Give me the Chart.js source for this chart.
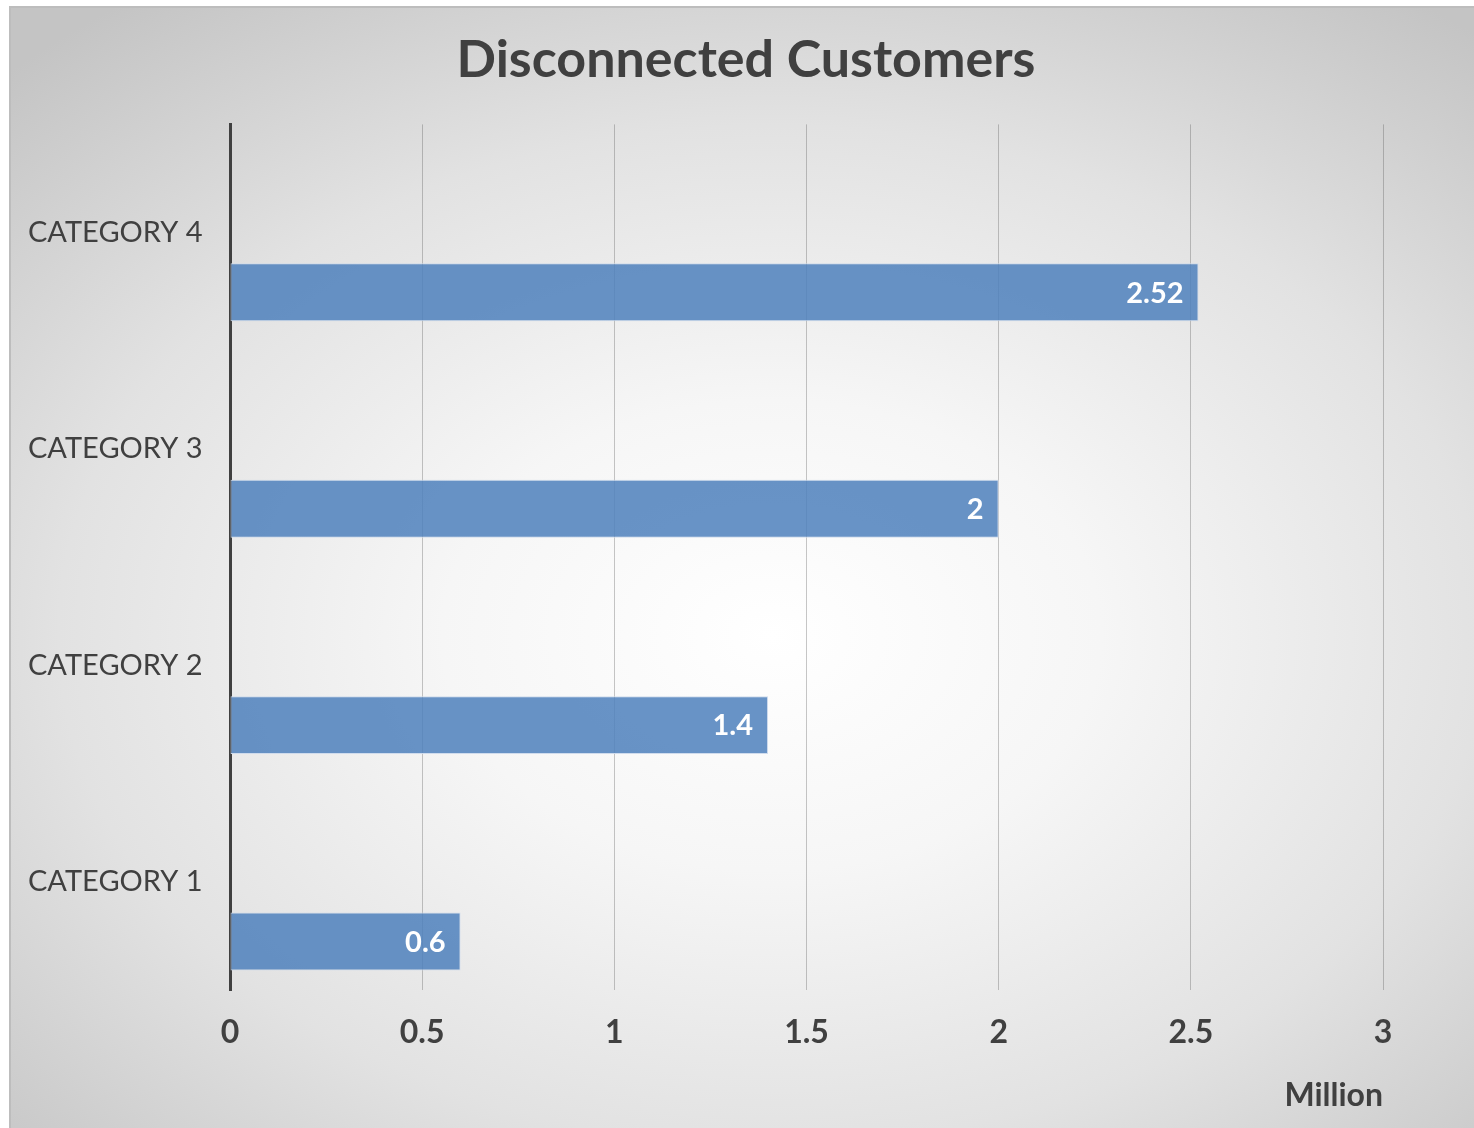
<!DOCTYPE html>
<html>
<head>
<meta charset="utf-8">
<script src="https://cdn.jsdelivr.net/npm/chart.js@4"></script>
<style>
  html, body { margin: 0; padding: 0; background: #ffffff; }
  #frame {
    position: absolute; left: 9px; top: 6px; width: 1465px; height: 1122px;
    border-left: 2px solid #bdbdbd; border-top: 2px solid #bdbdbd;
    box-sizing: border-box;
    background: radial-gradient(ellipse 75% 70% at 52% 56%, #ffffff 0%, #f6f6f6 30%, #e2e2e2 65%, #c4c4c4 100%);
  }
  #wrap { position: absolute; left: 0; top: 0; width: 1474px; height: 1128px; }
</style>
</head>
<body>
<div id="frame"></div>
<div id="wrap"><canvas id="barChart"></canvas></div>
<script>
// Chart data
const categories = ["CATEGORY 4", "CATEGORY 3", "CATEGORY 2", "CATEGORY 1"];
const customers = [2.52, 2, 1.4, 0.6];
// two empty series keep the Excel-style offset of the bars inside each band
const emptySeries = [null, null, null, null];
const xTicks = { min: 0, max: 3, step: 0.5 };

const textColor = "#404040";
const fontFamily = "Lato, 'Open Sans', sans-serif";

// Draw values at the inside end of every bar
const barValueLabels = {
  id: "barValueLabels",
  afterDatasetsDraw(chart) {
    const ctx = chart.ctx;
    ctx.save();
    ctx.fillStyle = "#ffffff";
    ctx.font = "bold 29px " + fontFamily;
    ctx.textAlign = "right";
    ctx.textBaseline = "middle";
    chart.data.datasets.forEach((ds, i) => {
      const meta = chart.getDatasetMeta(i);
      meta.data.forEach((bar, j) => {
        if (ds.data[j] == null) return;
        ctx.fillText(String(ds.data[j]), bar.x - 15, bar.y + 1);
      });
    });
    ctx.restore();
  }
};

document.addEventListener("DOMContentLoaded", function () {
  const ctx = document.getElementById("barChart").getContext("2d");
  new Chart(ctx, {
    type: "bar",
    data: {
      labels: categories,
      datasets: [
        { label: "Series 3", data: emptySeries },
        { label: "Series 2", data: emptySeries },
        {
          label: "Disconnected Customers",
          data: customers,
          backgroundColor: "rgba(79,129,189,0.86)",
          borderColor: "rgba(205,218,236,0.95)",
          borderWidth: 1,
          borderSkipped: false
        }
      ]
    },
    options: {
      indexAxis: "y",
      responsive: true,
      maintainAspectRatio: false,
      animation: false,
      categoryPercentage: 0.828,
      barPercentage: 0.97,
      layout: { padding: { left: 28, right: 10, top: 0, bottom: 10 } },
      plugins: {
        legend: { display: false },
        tooltip: { enabled: false },
        title: {
          display: true,
          text: "Disconnected Customers",
          color: textColor,
          font: { family: fontFamily, size: 52, weight: "bold" },
          padding: { top: 29, bottom: 33 }
        }
      },
      scales: {
        x: {
          min: xTicks.min,
          max: xTicks.max,
          border: { display: false },
          grid: { color: "rgba(80,80,80,0.32)", lineWidth: 1, drawTicks: false },
          ticks: {
            stepSize: xTicks.step,
            color: textColor,
            padding: 23,
            font: { family: fontFamily, size: 32, weight: "bold" },
            callback: (v) => String(v)
          },
          title: {
            display: true,
            text: "Million",
            align: "end",
            color: textColor,
            font: { family: fontFamily, size: 32, weight: "bold" },
            padding: { top: 4, bottom: 3 }
          },
          afterFit(scale) { scale.height = 128; }
        },
        y: {
          border: { color: textColor, width: 3 },
          grid: { display: false, drawTicks: false },
          ticks: {
            crossAlign: "far",
            color: textColor,
            padding: 12,
            font: { family: fontFamily, size: 29 }
          },
          afterFit(scale) { scale.width = 202; }
        },
        // empty right-hand margin so the title centres over the whole chart
        yRight: {
          axis: "y",
          type: "category",
          position: "right",
          grid: { display: false, drawTicks: false },
          border: { display: false },
          ticks: { display: false },
          afterFit(scale) { scale.width = 81; }
        }
      }
    },
    plugins: [barValueLabels]
  });
});
</script>
</body>
</html>
